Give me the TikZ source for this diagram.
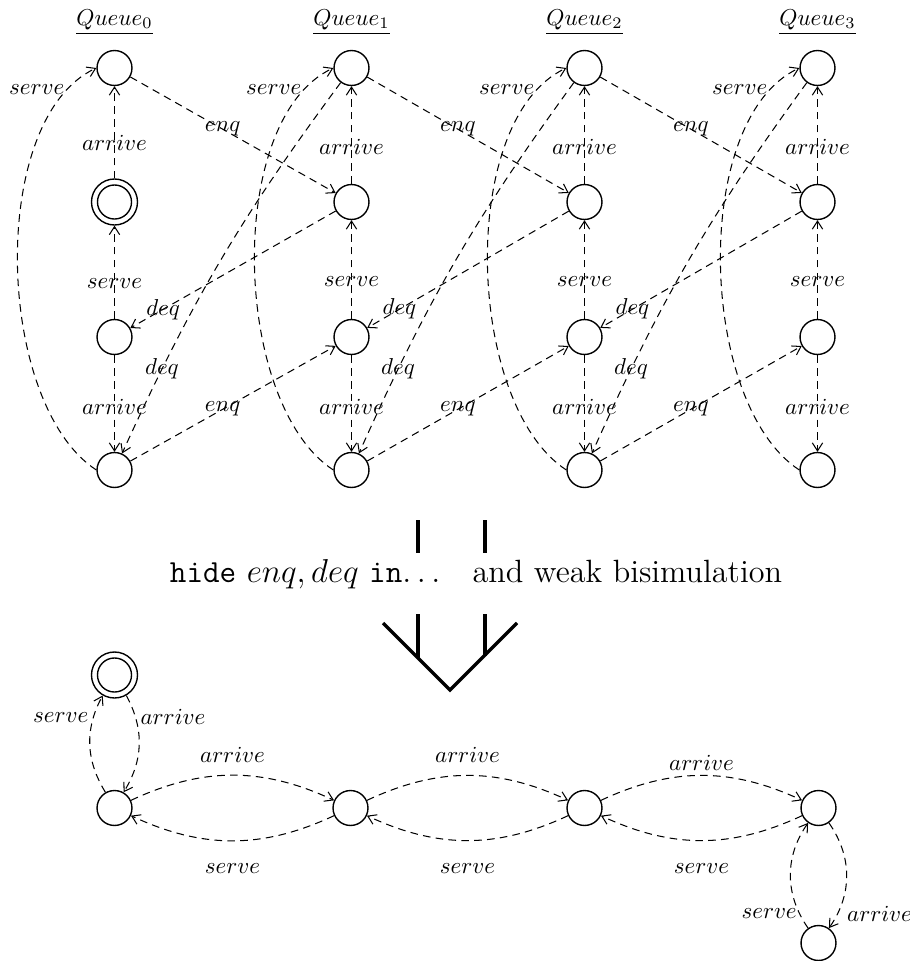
\documentclass[tikz,border=0pt]{standalone}
\usetikzlibrary{arrows.meta}
\begin{document}
\begin{tikzpicture}[x=0.4348pt, y=-0.4348pt,
  state/.style={circle, draw, line width=0.6pt, minimum size=15.2pt, inner sep=0pt},
  accepting/.style={circle, draw, line width=0.6pt, minimum size=20pt, inner sep=0pt,
    path picture={\draw[line width=0.6pt] (path picture bounding box.center) circle[radius=7.4pt];}},
  trans/.style={line width=0.45pt, dash pattern=on 3.3pt off 2.3pt,
    -{Straight Barb[length=3.5pt,width=4.5pt]}},
  lbl/.style={inner sep=1pt, font=\normalsize},
  heading/.style={inner sep=1pt},
  bar/.style={line width=1.5pt},
]
\useasboundingbox (0,0) rectangle (909,961);

% ---- the four queue processes ----
\foreach \c/\x in {0/114.5,1/351.5,2/584.5,3/817.5} {
  \node[heading] (Q\c) at (\x,22) {$\underline{Queue_{\c}}$};
  \node[state] (T\c) at (\x,68) {};
  \node[state] (M\c) at (\x,337) {};
  \node[state] (B\c) at (\x,470) {};
}
\node[accepting] (S0) at (114.5,202) {};
\foreach \c/\x in {1/351.5,2/584.5,3/817.5}
  \node[state] (S\c) at (\x,202) {};

% transitions inside each queue
\foreach \c in {0,...,3} {
  \draw[trans] (S\c) -- node[lbl, pos=0.38] {$arrive$} (T\c);
  \draw[trans] (M\c) -- node[lbl, pos=0.375] {$serve$} (S\c);
  \draw[trans] (M\c) -- node[lbl, pos=0.535] {$arrive$} (B\c);
  \draw[trans] (B\c.west) .. controls +(-101,-66) and +(-109,51) ..
    node[lbl, pos=0.9, anchor=east] {$serve$} (T\c.west);
}

% enq / deq between neighbouring queues
\foreach \c/\n in {0/1,1/2,2/3} {
  \draw[trans] (T\c) -- node[lbl, pos=0.45] {$enq$} (S\n);
  \draw[trans] (S\n) -- node[lbl, pos=0.84] {$deq$} (M\c);
  \draw[trans] (T\n) to[bend right=6] node[lbl, pos=0.8] {$deq$} (B\c);
  \draw[trans] (B\c) -- node[lbl, pos=0.45] {$enq$} (M\n);
}

% ---- hiding and minimisation ----
\coordinate (ul) at (418,520); \coordinate (ulb) at (418,553);
\coordinate (ur) at (485,520); \coordinate (urb) at (485,553);
\draw[bar] (ul) -- (ulb);
\draw[bar] (ur) -- (urb);
\node[anchor=base, inner sep=0pt, font=\fontsize{14}{17}\selectfont] (H) at (476,582)
  {\texttt{hide} $enq,deq$ \texttt{in}$\ldots$\quad and weak bisimulation};
\coordinate (vl) at (383,623); \coordinate (vv) at (450,690); \coordinate (vr) at (517,623);
\coordinate (ll) at (418,614); \coordinate (llb) at (418,658);
\coordinate (lr) at (485,614); \coordinate (lrb) at (485,656);
\draw[bar] (vl) -- (vv) -- (vr);
\draw[bar] (ll) -- (llb);
\draw[bar] (lr) -- (lrb);

% ---- resulting process ----
\node[accepting] (A) at (114.5,675) {};
\node[state] (L0) at (114.5,808) {};
\node[state] (L1) at (350.5,808) {};
\node[state] (L2) at (584.5,808) {};
\node[state] (L3) at (818.5,808) {};
\node[state] (L4) at (818.5,943) {};

\draw[trans] (L0) to[bend left=30] node[lbl, pos=0.78, anchor=east, xshift=-1pt] {$serve$} (A);
\draw[trans] (A) to[bend left=30] node[lbl, pos=0.22, anchor=west, xshift=1pt] {$arrive$} (L0);
\foreach \a/\b/\d in {0/1/4.3pt,1/2/4.3pt,2/3/0.8pt} {
  \draw[trans] (L\a) to[bend left=25] node[lbl, above=\d] {$arrive$} (L\b);
  \draw[trans] (L\b) to[bend left=25] node[lbl, below=8.7pt] {$serve$} (L\a);
}
\draw[trans] (L3) to[bend left=35] node[lbl, pos=0.86, anchor=west, xshift=3pt] {$arrive$} (L4);
\draw[trans] (L4) to[bend left=35] node[lbl, pos=0.14, anchor=east] {$serve$} (L3);
\end{tikzpicture}
\end{document}
